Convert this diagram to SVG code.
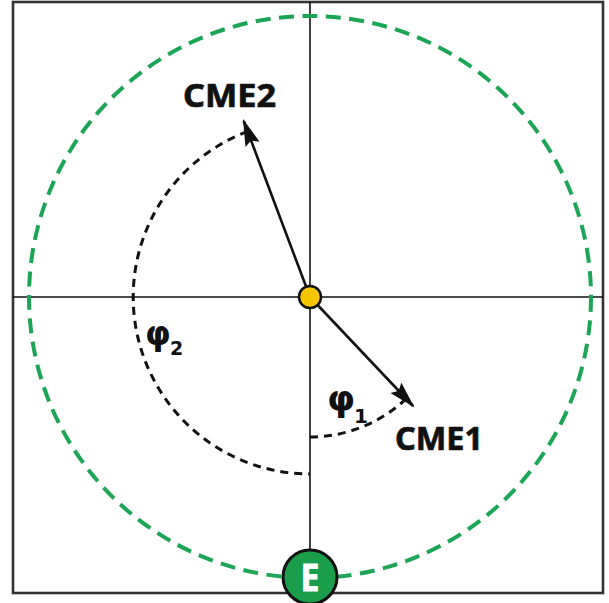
<svg xmlns="http://www.w3.org/2000/svg" width="609" height="603" viewBox="0 0 609 603">
<style>
.axis{stroke:#111;stroke-width:1.6;fill:none}
.frame{stroke:#333;stroke-width:2.6;fill:none}
.orbit{stroke:#1da556;stroke-width:4;fill:none;stroke-dasharray:15 8.5}
.ang{stroke:#111;stroke-width:3;fill:none;stroke-dasharray:8 6}
.arrow{stroke:#111;stroke-width:2.6;fill:none;marker-end:url(#ah)}
.lbl{font-family:"Noto Sans","Open Sans",sans-serif;font-weight:700;fill:#111;stroke:#111;stroke-width:0.7}
.greek{font-family:"DejaVu Sans",sans-serif;font-weight:700;fill:#111}
</style>
<defs>
<marker id="ah" markerUnits="userSpaceOnUse" markerWidth="30" markerHeight="16" refX="25" refY="7.5" orient="auto">
<path d="M0,0 L27,7.5 L0,15 L4,7.5 z" fill="#111"/>
</marker>
</defs>
<rect width="609" height="603" fill="#fff"/>
<rect class="frame" x="13" y="2" width="590" height="591"/>
<g id="axes">
<line class="axis" x1="310" y1="2" x2="310" y2="593"/>
<line class="axis" x1="13" y1="297" x2="603" y2="297"/>
</g>
<g id="orbit"><circle class="orbit" cx="310" cy="297" r="281"/></g>
<g id="connectors">
<path class="ang" d="M247.7,131.4 A177,177 0 0 0 310,474"/>
<path class="ang" d="M310,437 A140,140 0 0 0 407.6,397.4"/>
<line class="arrow" x1="310" y1="297" x2="243.7" y2="120.9"/>
<line class="arrow" x1="310" y1="297" x2="413.1" y2="406"/>
</g>
<g id="sun"><circle cx="310" cy="297" r="11" fill="#f7c600" stroke="#111" stroke-width="2.5"/></g>
<g id="earth">
<circle cx="310" cy="577" r="27" fill="#1a9e4c" stroke="#111" stroke-width="3"/>
<text x="310" y="591" text-anchor="middle" font-family="Noto Sans,sans-serif" font-weight="700" font-size="38" fill="#fff" stroke="#fff" stroke-width="0.8" textLength="19" lengthAdjust="spacingAndGlyphs">E</text>
</g>
<g id="cme2"><text class="lbl" x="183" y="107" font-size="32" textLength="93" lengthAdjust="spacingAndGlyphs">CME2</text></g>
<g id="cme1"><text class="lbl" x="395" y="450" font-size="32" textLength="88" lengthAdjust="spacingAndGlyphs">CME1</text></g>
<g id="phi1"><text class="greek" x="327" y="411" font-size="36">φ<tspan x="354" y="423" font-size="20">1</tspan></text></g>
<g id="phi2"><text class="greek" x="145" y="345" font-size="33">φ<tspan x="170" y="355" font-size="19">2</tspan></text></g>
</svg>
